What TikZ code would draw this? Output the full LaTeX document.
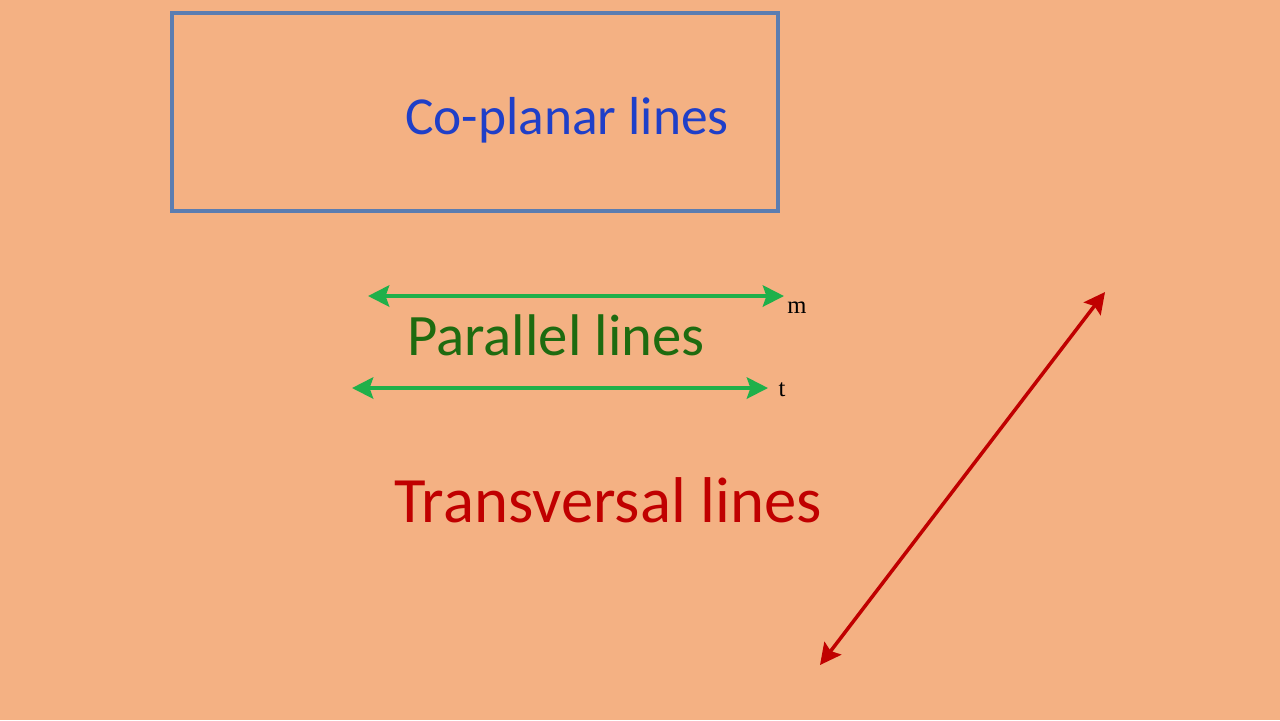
\documentclass[tikz,border=0pt]{standalone}
\usepackage{fontspec}
\setmainfont{Carlito}
\newfontfamily\serifm{Liberation Serif}
\usetikzlibrary{arrows.meta}
\definecolor{bg}{HTML}{F4B183}
\definecolor{boxc}{HTML}{5B7DB1}
\definecolor{bluet}{HTML}{1F3FC8}
\definecolor{greent}{HTML}{1E6B10}
\definecolor{greenl}{HTML}{1FB04A}
\definecolor{redt}{HTML}{C00000}
\tikzset{arr/.style={line width=1.2pt,{Stealth[length=6pt,width=6pt,inset=1pt]}-{Stealth[length=6pt,width=6pt,inset=1pt]}},
lbl/.style={font=\serifm\fontsize{7pt}{8pt}\selectfont,inner sep=0pt}}
\begin{document}
\begin{tikzpicture}[x=0.01cm,y=-0.01cm]
\fill[bg] (0,0) rectangle (1280,720);
\useasboundingbox (0,0) rectangle (1280,720);
\draw[boxc,line width=1pt] (172,13) rectangle (778,211);
\node[bluet,font=\fontsize{15.2pt}{17pt}\selectfont] (cp) at (567,120) {Co-planar lines};
\coordinate (m1) at (368,296); \coordinate (m2) at (784,296);
\coordinate (t1) at (352,388); \coordinate (t2) at (768,388);
\draw[arr,greenl] (m1) -- (m2);
\draw[arr,greenl] (t1) -- (t2);
\node[lbl] (m) at (797,308) {m};
\node[lbl] (t) at (782,390) {t};
\node[greent,font=\fontsize{16.7pt}{19pt}\selectfont] (pl) at (556,335) {Parallel lines};
\node[redt,font=\fontsize{18.4pt}{21pt}\selectfont] (tl) at (608,500) {Transversal lines};
\coordinate (r1) at (820,665); \coordinate (r2) at (1105,292);
\draw[arr,redt,line width=1pt] (r1) -- (r2);
\end{tikzpicture}
\end{document}
